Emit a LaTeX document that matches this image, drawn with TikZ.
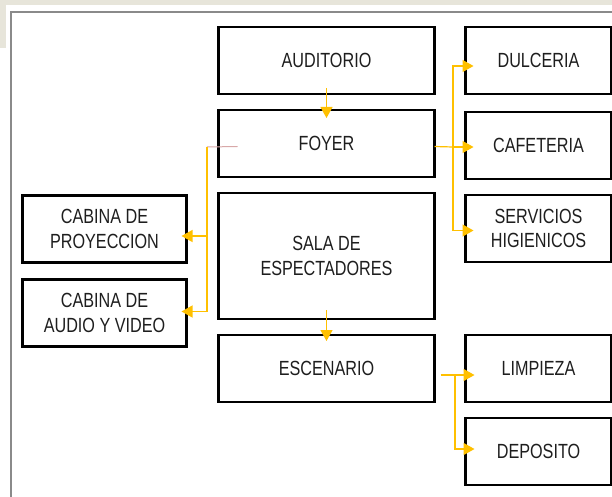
\documentclass[tikz,border=0pt]{standalone}
\usepackage{fontspec}
\newfontfamily\narrowfont{Liberation Sans}[FakeStretch=0.79]
\usetikzlibrary{arrows.meta,positioning}
\definecolor{arrowgold}{HTML}{FFC000}
\definecolor{framegrey}{HTML}{8A8A8A}
\definecolor{textgrey}{HTML}{1E1E1E}
\definecolor{stubpink}{HTML}{D8A8A8}
\definecolor{wmark}{HTML}{E7E5DA}

\begin{document}
\begin{tikzpicture}[x=1pt, y=-1pt, node distance=16pt and 31pt,
  every node/.style={font=\narrowfont\fontsize{20.5}{24.5}\selectfont, text=textgrey},
  area/.style={draw=black, line width=2.1pt, outer sep=0pt, inner sep=0pt, minimum width=216pt, minimum height=67pt, align=center},
  side/.style={area, minimum width=146pt},
  cabin/.style={area, minimum width=164pt},
  flowline/.style={draw=arrowgold, line width=1.2pt},
  flow/.style={flowline, -{Triangle[length=11pt, width=12pt]}}]
\useasboundingbox (0,0) rectangle (612,497);
\fill[wmark] (0,0) rectangle (612,5);
\fill[wmark] (0,0) rectangle (6,48);
\draw[framegrey, line width=2.4pt] (11,500) -- (11,12) -- (615,12);

% main column
\node[area] (aud) at (326.5,60.5) {AUDITORIO};
\node[area, below=of aud] (foyer) {FOYER};
\node[area, minimum height=126pt, below=of foyer] (sala) {SALA DE\\ESPECTADORES};
\node[area, below=of sala] (esc) {ESCENARIO};

% right column
\node[side, right=of aud] (dulc) {DULCERIA};
\node[side, right=of foyer, yshift=-2pt] (cafe) {CAFETERIA};
\node[side, below=of cafe] (serv) {SERVICIOS\\HIGIENICOS};
\node[side, right=of esc] (limp) {LIMPIEZA};
\node[side, below=of limp] (depo) {DEPOSITO};

% left column
\node[cabin, left=32pt of sala, yshift=27pt] (proy) {CABINA DE\\PROYECCION};
\node[cabin, below=17pt of proy] (audio) {CABINA DE\\AUDIO Y VIDEO};

\coordinate (fj) at (453,147);
\coordinate (lj) at (207,147);
\coordinate (ej) at (455,375);

\draw[flow] ([yshift=6pt]aud.south) -- ([yshift=-8pt]foyer.north);
\draw[flow] ([yshift=9pt]sala.south) -- ([yshift=-6pt]esc.north);

\draw[flowline] ([yshift=-3pt]foyer.east) -- (fj);
\draw[flow] (fj) |- ([xshift=8pt,yshift=-5.5pt]dulc.west);
\draw[flow] (fj) -- ([xshift=8pt]fj -| cafe.west);
\draw[flow] (fj) |- ([xshift=8pt,yshift=-2pt]serv.west);

\draw[stubpink, line width=1pt] ([xshift=19pt,yshift=-3pt]foyer.west) -- (lj);
\draw[flow] (lj) |- ([xshift=-5pt,yshift=-7pt]proy.east);
\draw[flow] (lj) |- ([xshift=-5pt,yshift=1.5pt]audio.east);

\draw[flowline] ([xshift=6pt,yshift=-6.5pt]esc.east) -- (ej);
\draw[flow] (ej) -- ([xshift=9pt]ej -| limp.west);
\draw[flow] (ej) |- ([xshift=9pt,yshift=2.5pt]depo.west);
\end{tikzpicture}
\end{document}
